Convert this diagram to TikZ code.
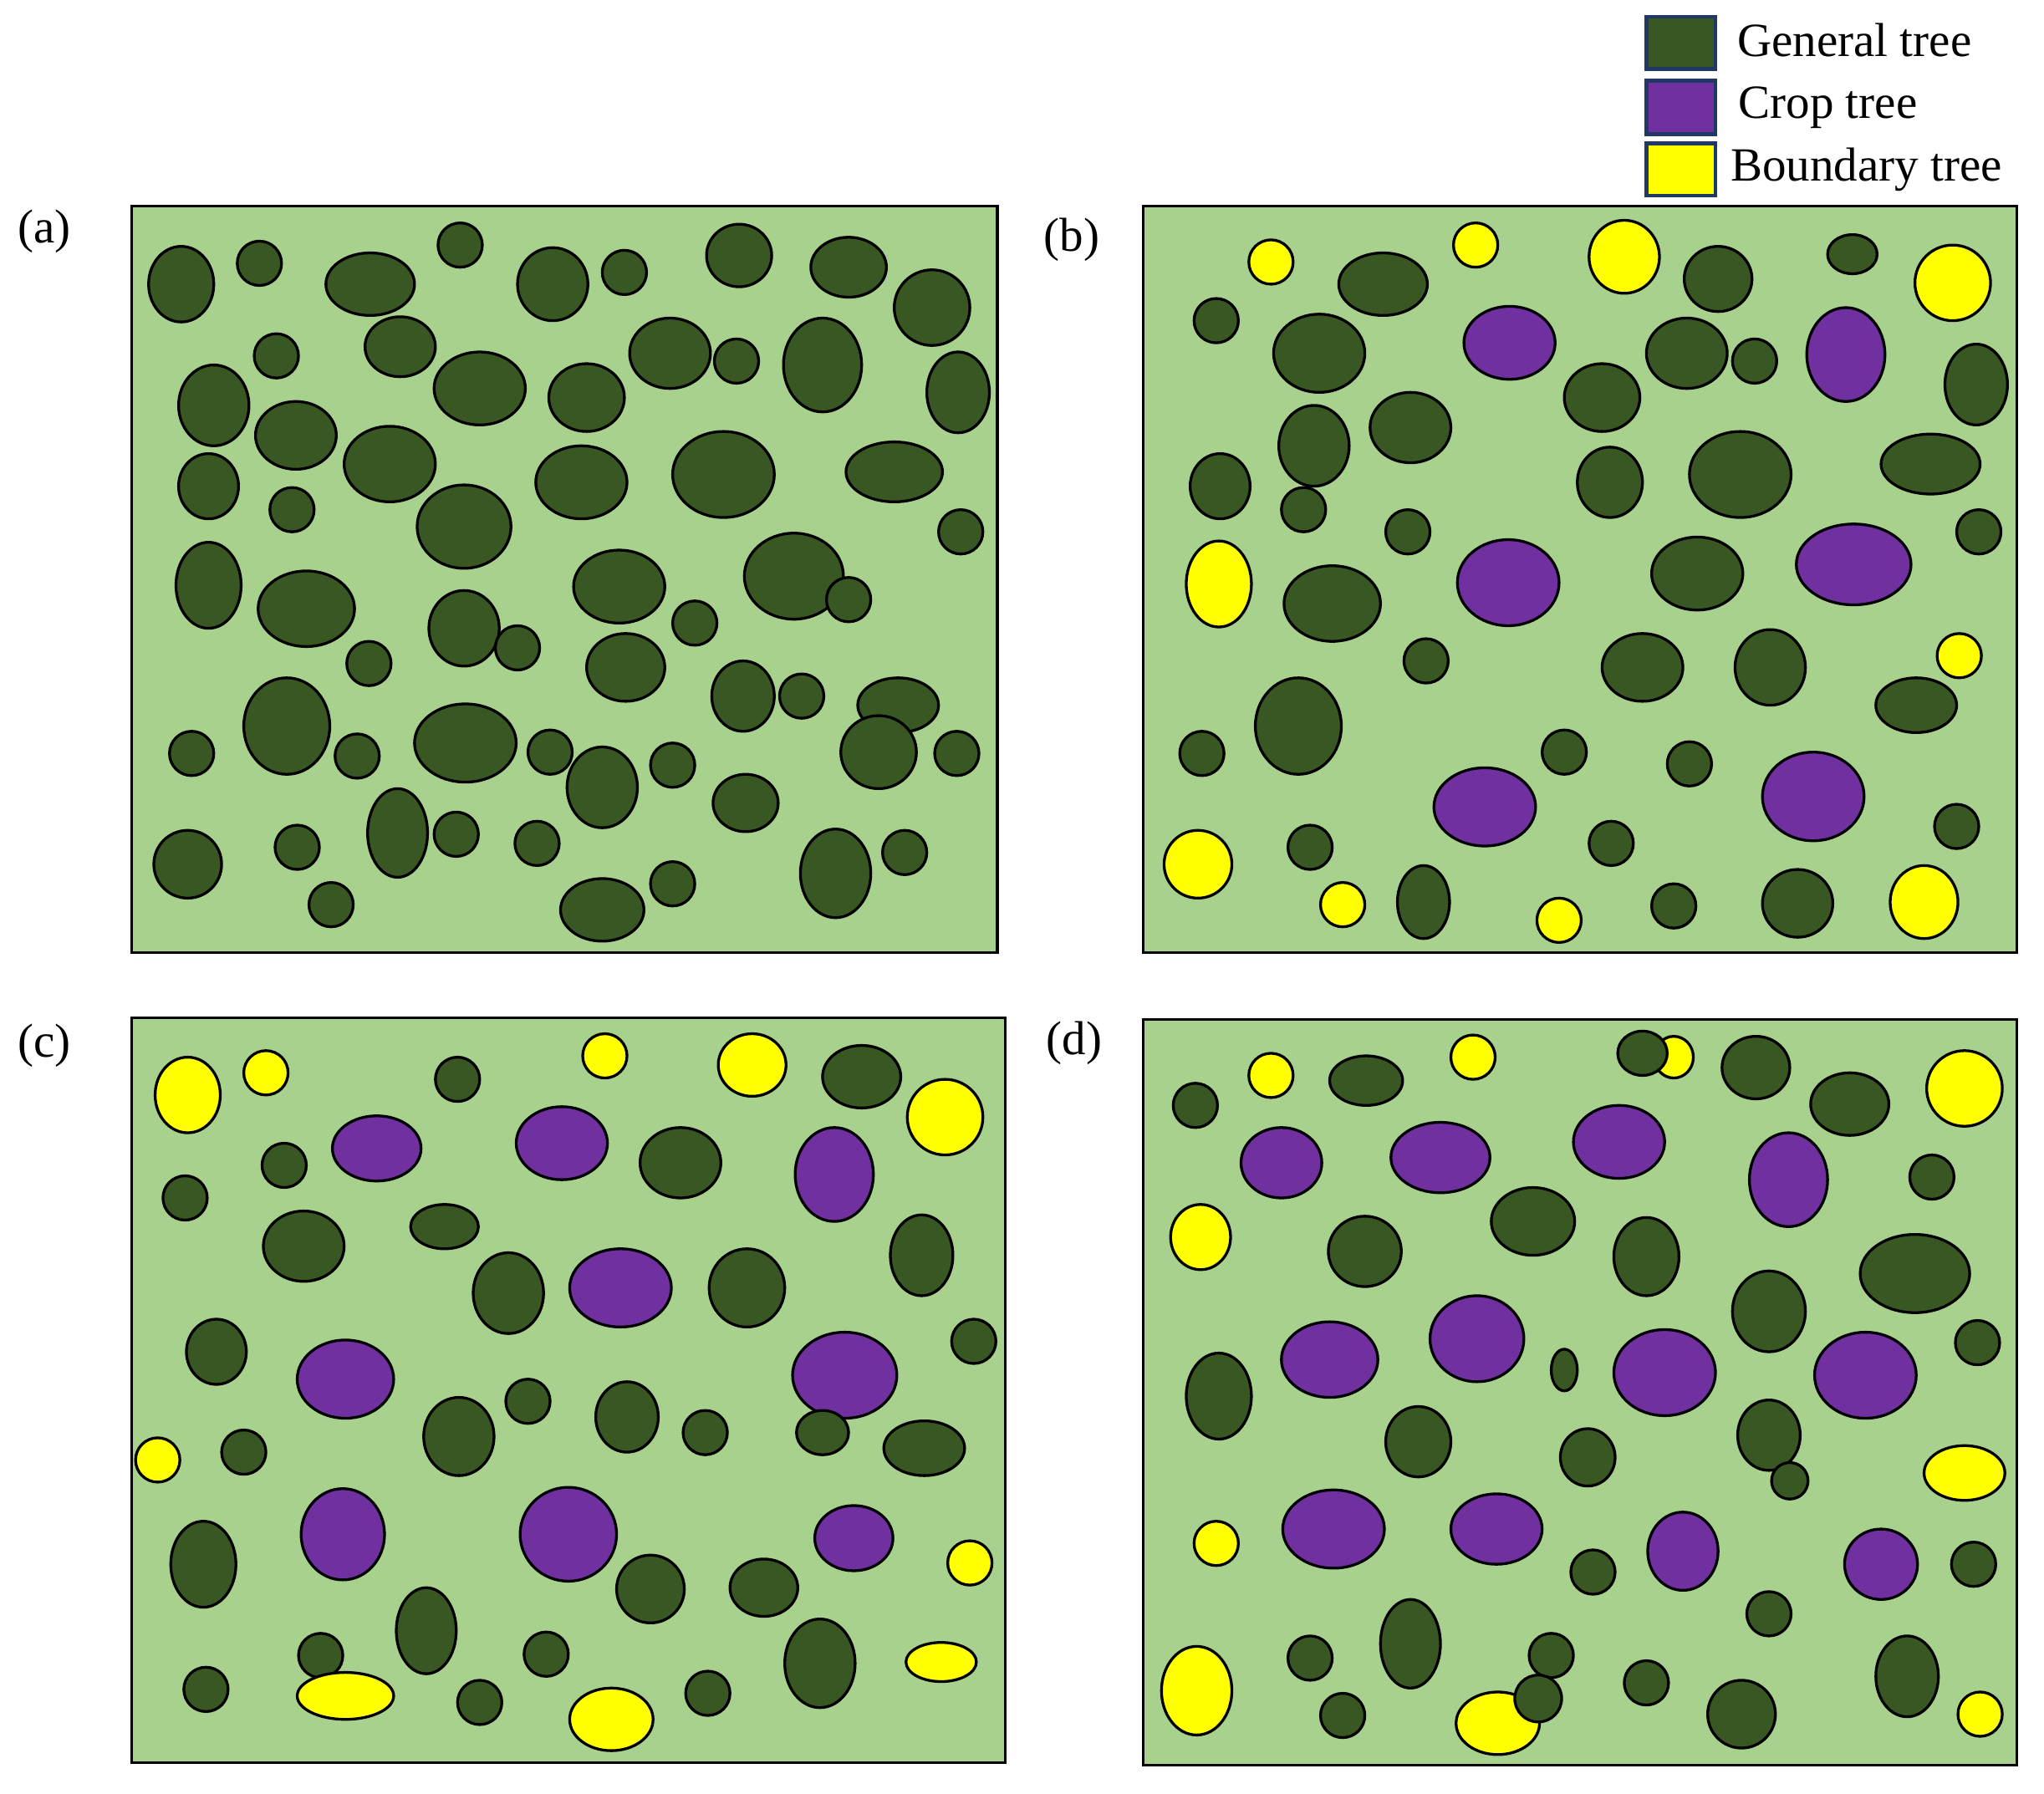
\documentclass[tikz,border=0pt]{standalone}
\usepackage{fontspec}
\setmainfont{Liberation Serif}
\definecolor{bgG}{HTML}{A9D18E}
\definecolor{dkG}{HTML}{385723}
\definecolor{crP}{HTML}{7030A0}
\definecolor{bdY}{HTML}{FFFF00}
\definecolor{lgB}{HTML}{1F3864}
\tikzset{
  plot/.style={draw=black, fill=bgG, line width=0.6pt},
  gtree/.style={draw=black, fill=dkG, line width=0.6pt},
  ptree/.style={draw=black, fill=crP, line width=0.6pt},
  ytree/.style={draw=black, fill=bdY, line width=0.6pt},
  legbox/.style={draw=lgB, line width=0.8pt},
  legtext/.style={anchor=base west, inner sep=0pt, font=\fontsize{10.4}{12}\selectfont},
  plabel/.style={anchor=base west, inner sep=0pt, font=\fontsize{10.4}{12}\selectfont}
}
\newcommand{\tE}[5]{\draw[#1] (#2,#3) ellipse [x radius=#4*0.01cm, y radius=#5*0.01cm];}
\newcommand{\tG}[4]{\tE{gtree}{#1}{#2}{#3}{#4}}
\newcommand{\tP}[4]{\tE{ptree}{#1}{#2}{#3}{#4}}
\newcommand{\tY}[4]{\tE{ytree}{#1}{#2}{#3}{#4}}
\newcommand{\tg}[2]{\tG{#1}{#2}{17}{17}}
\newcommand{\ty}[2]{\tY{#1}{#2}{17}{17}}
\begin{document}
\begin{tikzpicture}[x=0.01cm,y=-0.01cm]
\useasboundingbox (0,0) rectangle (1568,1376);

% Legend
\draw[legbox, fill=dkG] (1263,13) rectangle (1316,53);
\draw[legbox, fill=crP] (1263,62) rectangle (1316,103);
\draw[legbox, fill=bdY] (1263,110) rectangle (1316,150);
\node[legtext] (lg1) at (1332,43) {General tree};
\node[legtext] (lg2) at (1333,91) {Crop tree};
\node[legtext] (lg3) at (1327,139) {Boundary tree};

% Panel labels
\node[plabel] (la) at (13,186) {(a)};
\node[plabel] (lb) at (800,193) {(b)};
\node[plabel] (lc) at (13,811) {(c)};
\node[plabel] (ld) at (802,809) {(d)};

% ---------------- Panel (a)
\draw[plot] (101,158) rectangle (765,731);
\tG{139}{218}{25}{29} \tg{199}{202} \tG{284}{218}{34}{24} \tg{353}{188}
\tG{424}{218}{27}{28} \tg{479}{209} \tG{567}{196}{25}{24} \tG{651}{205}{29}{23}
\tG{715}{236}{29}{29} \tg{212}{273} \tG{307}{266}{27}{23} \tG{368}{298}{35}{28}
\tG{450}{305}{29}{26} \tG{514}{271}{31}{27} \tg{565}{277} \tG{631}{280}{30}{36}
\tG{735}{301}{24}{31} \tG{164}{311}{27}{31} \tG{227}{334}{31}{26} \tG{299}{356}{35}{29}
\tG{160}{373}{23}{25} \tg{224}{391} \tG{356}{404}{36}{32} \tG{446}{370}{35}{28}
\tG{555}{364}{39}{33} \tG{686}{362}{37}{23} \tg{737}{408} \tG{160}{449}{25}{33}
\tG{235}{467}{37}{29} \tg{283}{509} \tG{356}{482}{27}{29} \tg{397}{497}
\tG{475}{450}{35}{28} \tg{533}{478} \tG{609}{442}{38}{33} \tg{651}{460}
\tG{480}{512}{30}{26} \tG{570}{534}{24}{27} \tg{615}{534} \tG{689}{541}{31}{21}
\tG{674}{577}{29}{28} \tg{734}{578} \tg{147}{578} \tG{220}{557}{33}{37}
\tg{274}{580} \tG{357}{570}{39}{30} \tg{422}{577} \tG{462}{604}{27}{31}
\tg{516}{587} \tG{572}{616}{25}{22} \tG{144}{663}{26}{26} \tg{228}{650}
\tG{305}{639}{23}{34} \tg{350}{640} \tg{412}{647} \tg{254}{694}
\tG{462}{698}{32}{24} \tg{516}{678} \tG{641}{670}{27}{34} \tg{694}{654}

% ---------------- Panel (b)
\draw[plot] (877,158) rectangle (1547,731);
\ty{975}{201} \ty{1132}{188} \tY{1246}{197}{27}{28} \tY{1498}{217}{29}{29}
\tY{935}{448}{25}{33} \ty{1503}{503} \tY{919}{663}{26}{26} \ty{1030}{694}
\ty{1196}{706} \tY{1476}{692}{26}{28}
\tP{1158}{263}{35}{28} \tP{1416}{272}{30}{36} \tP{1157}{447}{39}{33}
\tP{1422}{433}{44}{31} \tP{1139}{619}{39}{30} \tP{1391}{611}{39}{34}
\tg{933}{246} \tG{1061}{218}{34}{24} \tG{1318}{214}{26}{25} \tG{1421}{195}{19}{15}
\tG{1012}{271}{35}{30} \tG{1229}{305}{29}{26} \tG{1294}{271}{31}{27} \tg{1346}{277}
\tG{1516}{295}{24}{31} \tG{1082}{328}{31}{27} \tG{1008}{342}{27}{31} \tG{936}{373}{23}{25}
\tg{1000}{391} \tg{1080}{408} \tG{1235}{370}{25}{27} \tG{1335}{364}{39}{33}
\tG{1481}{356}{38}{23} \tg{1518}{408} \tG{1022}{463}{37}{29} \tG{1302}{440}{35}{28}
\tg{1094}{507} \tG{1260}{512}{31}{26} \tG{1358}{512}{27}{29} \tG{1470}{541}{31}{21}
\tG{996}{557}{33}{37} \tg{922}{578} \tg{1200}{577} \tg{1296}{586}
\tg{1005}{650} \tg{1236}{647} \tg{1501}{634} \tG{1092}{692}{20}{28}
\tg{1284}{695} \tG{1379}{693}{27}{26}

% ---------------- Panel (c)
\draw[plot] (101,781) rectangle (771,1352);
\tY{144}{840}{25}{29} \ty{204}{823} \ty{464}{810} \tY{577}{817}{26}{24}
\tY{725}{857}{29}{29} \ty{121}{1120} \ty{744}{1199} \tY{722}{1275}{27}{15}
\tY{469}{1319}{32}{24}
\tP{289}{881}{34}{25} \tP{431}{877}{35}{28} \tP{640}{901}{30}{36}
\tP{476}{988}{39}{30} \tP{265}{1058}{37}{30} \tP{648}{1055}{40}{33}
\tP{263}{1177}{32}{35} \tP{436}{1177}{37}{36} \tP{655}{1180}{30}{25}
\tg{351}{828} \tG{661}{826}{30}{24} \tg{218}{894} \tg{142}{919}
\tG{522}{892}{31}{27} \tG{233}{956}{31}{27} \tG{341}{941}{26}{17} \tG{390}{992}{27}{31}
\tG{573}{988}{29}{30} \tG{707}{963}{24}{31} \tG{166}{1037}{23}{25} \tg{747}{1029}
\tG{352}{1102}{27}{30} \tg{405}{1075} \tG{481}{1087}{24}{27} \tg{541}{1099}
\tG{631}{1099}{20}{17} \tG{709}{1111}{31}{21} \tg{187}{1114} \tG{156}{1200}{25}{33}
\tG{499}{1219}{26}{26} \tG{586}{1218}{26}{22} \tG{327}{1251}{23}{33} \tg{246}{1270}
\tg{419}{1269} \tG{629}{1276}{27}{34} \tg{158}{1296} \tg{368}{1306} \tg{543}{1299}
\tY{265}{1301}{37}{18}

% ---------------- Panel (d)
\draw[plot] (877,782) rectangle (1547,1354);
\ty{975}{825} \ty{1130}{811} \tY{1284}{811}{15}{16} \tY{1507}{835}{29}{29}
\tY{921}{949}{23}{25} \tY{1507}{1130}{31}{21} \ty{933}{1184} \tY{918}{1297}{27}{34}
\tY{1149}{1322}{32}{24} \ty{1519}{1315}
\tP{983}{892}{31}{27} \tP{1105}{888}{38}{27} \tP{1242}{876}{35}{28} \tP{1372}{905}{30}{36}
\tP{1020}{1043}{37}{29} \tP{1133}{1027}{36}{33} \tP{1277}{1053}{39}{33} \tP{1431}{1055}{39}{33}
\tP{1023}{1173}{39}{30} \tP{1148}{1173}{35}{27} \tP{1291}{1190}{27}{30} \tP{1443}{1200}{28}{27}
\tg{917}{848} \tG{1048}{829}{28}{19} \tG{1260}{808}{19}{17} \tG{1347}{819}{26}{24}
\tG{1419}{847}{30}{24} \tg{1482}{903} \tG{1176}{937}{32}{26} \tG{1047}{960}{28}{27}
\tG{1263}{964}{25}{30} \tG{1469}{977}{42}{30} \tG{1357}{1006}{28}{31} \tg{1517}{1030}
\tG{935}{1071}{25}{33} \tG{1200}{1051}{10}{16} \tG{1088}{1106}{25}{27} \tG{1218}{1118}{21}{22}
\tG{1357}{1101}{24}{27} \tG{1373}{1136}{14}{14} \tg{1222}{1206} \tg{1514}{1200}
\tg{1357}{1238} \tG{1082}{1261}{23}{34} \tg{1005}{1272} \tg{1190}{1270}
\tG{1180}{1303}{18}{18} \tg{1263}{1291} \tG{1463}{1286}{24}{31} \tg{1030}{1316}
\tG{1336}{1315}{26}{26}
\end{tikzpicture}
\end{document}
